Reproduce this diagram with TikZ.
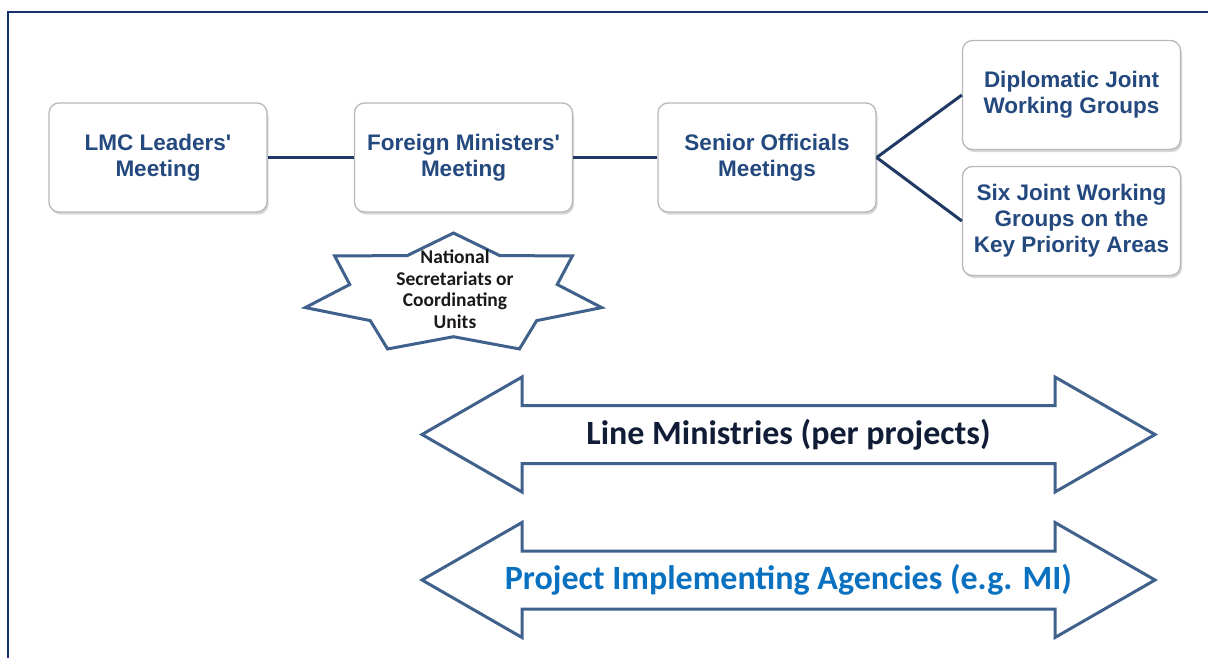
\documentclass[tikz,border=0pt]{standalone}
\usepackage{fontspec}
\setmainfont{Liberation Sans}
\newfontfamily\carlito{Carlito}
\usetikzlibrary{shadows}

\definecolor{boxtext}{HTML}{24497E}
\definecolor{navy}{HTML}{1F3864}
\definecolor{framecol}{HTML}{14306E}
\definecolor{outline}{HTML}{40618C}
\definecolor{darktext}{HTML}{111C36}
\definecolor{agency}{HTML}{0A70C0}

\tikzset{
	meeting/.style={draw=black!28, line width=1.3pt, rounded corners=10pt, fill=white,
		minimum width=218pt, minimum height=109pt, align=center, text=boxtext,
		font=\bfseries\fontsize{22.5}{26}\selectfont,
		drop shadow={shadow xshift=1.5pt, shadow yshift=-2.5pt, opacity=0.3}},
	link/.style={navy, line width=3pt},
	barrow/.style={outline, line width=3pt, line join=miter},
	starline/.style={outline, line width=3pt, line join=miter},
	bandtext/.style={font=\carlito\bfseries\fontsize{34}{40}\selectfont},
	startext/.style={align=center, text=black!90, font=\carlito\bfseries\fontsize{19.5}{21.5}\selectfont}
}

\begin{document}
\begin{tikzpicture}[x=1pt, y=-1pt]
				\clip (0,0) rectangle (1208,657);
				\fill[white] (0,0) rectangle (1208,657);
				\draw[framecol, line width=2pt] (8,700) -- (8,12) -- (1250,12);
				
				\node[meeting] (lmc) at (158,157.5) {LMC Leaders\textquotesingle\\Meeting};
				\node[meeting] (fmm) at (463.5,157.5) {Foreign Ministers\textquotesingle\\Meeting};
				\node[meeting] (som) at (767,157.5) {Senior Officials\\Meetings};
				\node[meeting] (djw) at (1071.5,95) {Diplomatic Joint\\Working Groups};
				\node[meeting] (sjw) at (1071.5,221) {Six Joint Working\\Groups on the\\Key Priority Areas};
				
				\draw[link] (lmc) -- (fmm);
				\draw[link] (fmm) -- (som);
				\draw[link] (som.east) -- (djw.west);
				\draw[link] (som.east) -- (sjw.west);
				
				% seven pointed star, stretched sideways
				\coordinate (nsc) at (453.5,294);
				\draw[starline, shift={(nsc)}] plot[samples at={0,...,13}]
					({152*(1-0.3*mod(\x,2))*cos(90+25.714*\x)}, {-61*(1-0.3*mod(\x,2))*sin(90+25.714*\x)}) -- cycle;
				\node[startext] (nsu) at (455,289) {National\\Secretariats or\\Coordinating\\Units};
				
				\node[bandtext, text=darktext] (lm) at (788.5,434.5) {Line Ministries (per projects)};
				\node[bandtext, text=agency] (pia) at (788.5,580) {Project Implementing Agencies (e.g. MI)};
				\foreach \n in {lm,pia}
					\draw[barrow, shift={(\n.center)}] (-366.5,0) -- (-266.5,-57.5) -- (-266.5,-29) -- (266.5,-29)
						-- (266.5,-57.5) -- (366.5,0) -- (266.5,57.5) -- (266.5,29) -- (-266.5,29) -- (-266.5,57.5) -- cycle;
			\end{tikzpicture}
\end{document}
